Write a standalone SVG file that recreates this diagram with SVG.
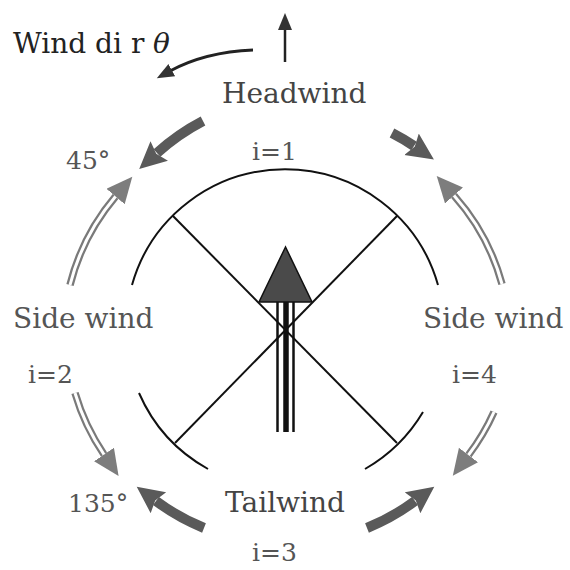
<svg xmlns="http://www.w3.org/2000/svg" width="570" height="570" viewBox="0 0 570 570">
<style>
.t{font-family:"DejaVu Serif","Liberation Serif",serif;font-size:28px;fill:#555}
.s{font-size:25px}
.k{fill:none;stroke:#111;stroke-width:2}
.thick{fill:none;stroke:#5a5a5a;stroke-width:10;marker-end:url(#hd)}
.dbl{fill:none;stroke:#7a7a7a;stroke-width:7.5;marker-end:url(#hl)}
.dblin{fill:none;stroke:#fff;stroke-width:3}
</style>
<defs>
<marker id="hd" markerUnits="userSpaceOnUse" markerWidth="30" markerHeight="28" refX="3" refY="13" orient="auto">
<path d="M0,0 L27,13 L0,26 L4,13 z" fill="#5a5a5a"/>
</marker>
<marker id="hl" markerUnits="userSpaceOnUse" markerWidth="30" markerHeight="28" refX="0" refY="12" orient="auto">
<path d="M0,0 L26,12 L0,24 z" fill="#7d7d7d"/>
</marker>
<marker id="hs" markerUnits="userSpaceOnUse" markerWidth="20" markerHeight="16" refX="2" refY="7" orient="auto">
<path d="M0,0 L17,7 L0,14 z" fill="#333"/>
</marker>
</defs>
<rect width="570" height="570" fill="#fff"/>

<g id="figure">
<path class="k" d="M132,285 A159,159 0 0 1 438,285"/>
<path class="k" d="M139,393 A160,160 0 0 0 208,469"/>
<path class="k" d="M423,412 A160,160 0 0 1 365,469"/>
<path class="k" d="M173,216 L397,443"/>
<path class="k" d="M397,216 L175,443"/>
</g>

<g id="wind-arrow">
<line x1="277.5" y1="300" x2="277.5" y2="432" stroke="#111" stroke-width="2.5"/>
<line x1="286" y1="300" x2="286" y2="432" stroke="#111" stroke-width="5.5"/>
<line x1="293.5" y1="300" x2="293.5" y2="432" stroke="#111" stroke-width="2.5"/>
<polygon points="285.5,247 259,302 312,302" fill="#4a4a4a" stroke="#111" stroke-width="1.5"/>
</g>

<g id="connectors">
<line x1="285" y1="62" x2="285" y2="28" stroke="#222" stroke-width="2.5" marker-end="url(#hs)"/>
<path d="M253,50 Q205,52 170,71" fill="none" stroke="#222" stroke-width="3" marker-end="url(#hs)"/>
<path class="thick" d="M203,121 A220,220 0 0 0 157,153"/>
<path class="thick" d="M392,133 A220,220 0 0 1 414,146"/>
<path class="thick" d="M204,528 A220,220 0 0 1 156,501"/>
<path class="thick" d="M367,528 A220,220 0 0 0 415,501"/>
<path class="dbl" d="M70,285 A220,220 0 0 1 115.5,196.5"/>
<path class="dblin" d="M70,285 A220,220 0 0 1 115.5,196.5"/>
<path class="dbl" d="M502,284 A220,220 0 0 0 454,195.5"/>
<path class="dblin" d="M502,284 A220,220 0 0 0 454,195.5"/>
<path class="dbl" d="M75,393 A220,220 0 0 0 104,454.5"/>
<path class="dblin" d="M75,393 A220,220 0 0 0 104,454.5"/>
<path class="dbl" d="M494,412 A220,220 0 0 1 468.5,455"/>
<path class="dblin" d="M494,412 A220,220 0 0 1 468.5,455"/>
</g>

<g id="label-winddir"><text class="t" x="13" y="53" style="fill:#222">Wind di r<tspan x="153" font-style="italic">θ</tspan></text></g>
<g id="label-headwind"><text class="t" x="222" y="103" style="fill:#444">Headwind</text></g>
<g id="label-i1"><text class="t s" x="252" y="160">i=1</text></g>
<g id="label-45"><text class="t s" x="66" y="169">45°</text></g>
<g id="label-side-left"><text class="t" x="13" y="328">Side wind</text></g>
<g id="label-i2"><text class="t s" x="28" y="383">i=2</text></g>
<g id="label-135"><text class="t s" x="68" y="512">135°</text></g>
<g id="label-side-right"><text class="t" x="423" y="328">Side wind</text></g>
<g id="label-i4"><text class="t s" x="452" y="383">i=4</text></g>
<g id="label-tailwind"><text class="t" x="225" y="512" style="fill:#444">Tailwind</text></g>
<g id="label-i3"><text class="t s" x="252" y="561">i=3</text></g>
</svg>
